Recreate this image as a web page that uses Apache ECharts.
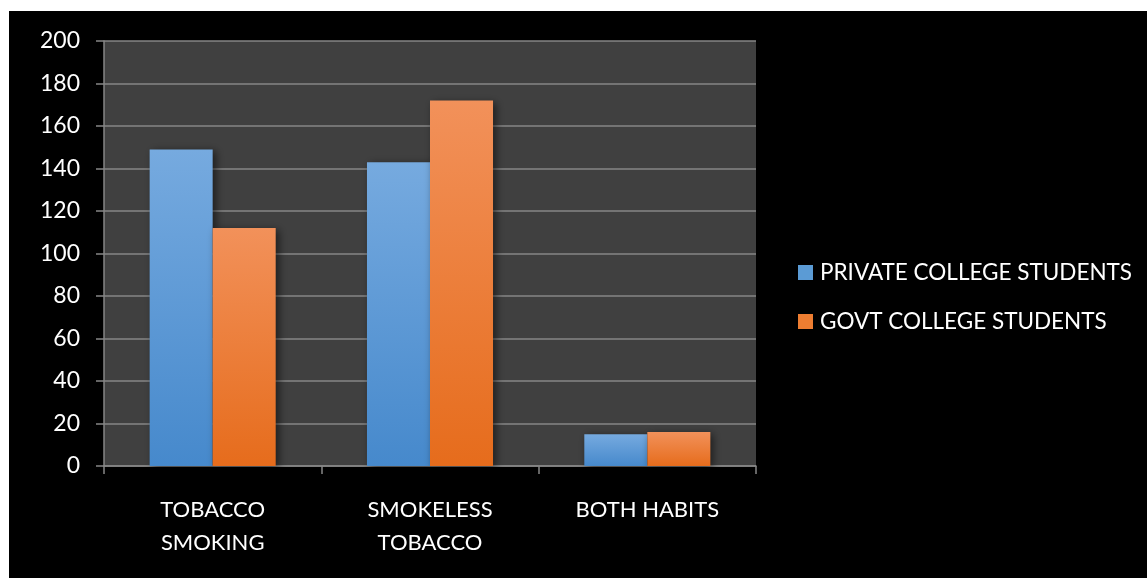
<!DOCTYPE html>
<html>
<head>
<meta charset="utf-8">
<script src="https://cdn.jsdelivr.net/npm/echarts@6/dist/echarts.min.js"></script>
<style>
  html, body { margin: 0; padding: 0; background: #ffffff; }
  #chart { width: 1147px; height: 578px; }
</style>
</head>
<body>
<div id="chart"></div>
<script>
// Tobacco habits by college type
const categories = ['TOBACCO\nSMOKING', 'SMOKELESS\nTOBACCO', 'BOTH HABITS'];
const privateStudents = [149, 143, 15];
const govtStudents = [112, 172, 16];
const seriesNames = ['PRIVATE COLLEGE STUDENTS', 'GOVT COLLEGE STUDENTS'];
const yTicks = { min: 0, max: 200, interval: 20 };

const FONT = 'Lato, "Open Sans", sans-serif';

function grad(top, bottom) {
  return new echarts.graphic.LinearGradient(0, 0, 0, 1, [
    { offset: 0, color: top },
    { offset: 1, color: bottom }
  ]);
}

const barShadow = {
  shadowBlur: 8,
  shadowColor: 'rgba(0,0,0,0.55)',
  shadowOffsetX: 3,
  shadowOffsetY: 2
};

const chart = echarts.init(document.getElementById('chart'), null, { renderer: 'canvas' });

chart.setOption({
  backgroundColor: '#ffffff',
  animation: false,
  graphic: [{
    type: 'rect',
    z: -10,
    silent: true,
    shape: { x: 9, y: 11, width: 1138, height: 567 },
    style: { fill: '#000000' }
  }],
  grid: {
    left: 104, top: 41, right: 391, bottom: 112,
    show: true,
    backgroundColor: '#404040',
    borderWidth: 0
  },
  legend: {
    orient: 'vertical',
    left: 798,
    top: 261,
    padding: 0,
    itemWidth: 15,
    itemHeight: 15,
    itemGap: 26,
    icon: 'rect',
    textStyle: { color: '#ffffff', fontSize: 22.5, fontFamily: FONT, padding: [0, 0, 0, 2] },
    data: [
      { name: seriesNames[0], itemStyle: { color: '#5b9bd5' } },
      { name: seriesNames[1], itemStyle: { color: '#ed7d31' } }
    ]
  },
  xAxis: {
    type: 'category',
    data: categories,
    axisLine: { show: true, lineStyle: { color: '#868686', width: 1.5 } },
    axisTick: { show: true, length: 8, lineStyle: { color: '#868686', width: 1.5 } },
    axisLabel: {
      color: '#ffffff', fontSize: 22, fontFamily: FONT,
      margin: 27, lineHeight: 33
    },
    splitLine: { show: false }
  },
  yAxis: {
    type: 'value',
    min: yTicks.min, max: yTicks.max, interval: yTicks.interval,
    axisLine: { show: true, lineStyle: { color: '#868686', width: 1.5 } },
    axisTick: { show: true, length: 8, lineStyle: { color: '#868686', width: 1.5 } },
    axisLabel: { color: '#ffffff', fontSize: 23, fontFamily: FONT, margin: 24 },
    splitLine: { show: true, lineStyle: { color: '#868686', width: 1.5 } }
  },
  series: [
    {
      name: seriesNames[0],
      type: 'bar',
      data: privateStudents,
      barGap: '0%',
      barCategoryGap: '42%',
      itemStyle: Object.assign({ color: grad('#76aadf', '#4689cc') }, barShadow)
    },
    {
      name: seriesNames[1],
      type: 'bar',
      data: govtStudents,
      itemStyle: Object.assign({ color: grad('#f2915a', '#e66c1c') }, barShadow)
    }
  ]
});
</script>
</body>
</html>
